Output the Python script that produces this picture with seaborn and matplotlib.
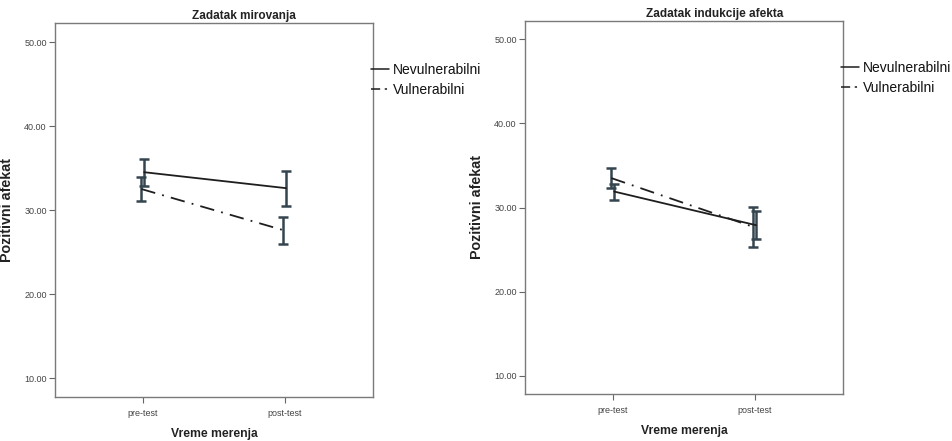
import numpy as np
import pandas as pd
import seaborn as sns
import matplotlib.pyplot as plt

# data (means and half-width of error bars)
phases = ["pre-test", "post-test"]
groups = ["Nevulnerabilni", "Vulnerabilni"]
panel_titles = ["Zadatak mirovanja", "Zadatak indukcije afekta"]

rest_nev_mean = [34.5, 32.6]
rest_nev_err = [1.6, 2.1]
rest_vul_mean = [32.5, 27.6]
rest_vul_err = [1.4, 1.6]

induct_nev_mean = [31.9, 27.9]
induct_nev_err = [0.95, 1.65]
induct_vul_mean = [33.5, 27.7]
induct_vul_err = [1.2, 2.4]

yticks = [10, 20, 30, 40, 50]

sns.set_theme(style="white")
plt.rcParams['font.family'] = ['Liberation Sans', 'DejaVu Sans']

fig = plt.figure(figsize=(9.52, 4.41), dpi=100)
ax1 = fig.add_axes([0.0578, 0.0998, 0.334, 0.848])
ax2 = fig.add_axes([0.5515, 0.1066, 0.334, 0.8458])

panels = [
    (ax1, rest_nev_mean, rest_nev_err, rest_vul_mean, rest_vul_err, (7.74, 52.26)),
    (ax2, induct_nev_mean, induct_nev_err, induct_vul_mean, induct_vul_err, (7.84, 52.17)),
]

bar_col = "#34454f"
line_col = "#1e1e1e"
styles = {"Nevulnerabilni": "", "Vulnerabilni": (8, 4, 1, 4)}
shift = {"Nevulnerabilni": 0.008, "Vulnerabilni": -0.012}

for i, (ax, nm, ne, vm, ve, ylim) in enumerate(panels):
    df = pd.DataFrame({
        "pos": list(range(len(phases))) * 2,
        "mean": nm + vm,
        "err": ne + ve,
        "grupa": [groups[0]] * len(phases) + [groups[1]] * len(phases),
    })
    df["x"] = df["pos"] + df["grupa"].map(shift)
    # error bars first, lines on top
    for g in groups:
        sub = df[df["grupa"] == g]
        ax.errorbar(sub["x"], sub["mean"], yerr=sub["err"], fmt="none",
                    ecolor=bar_col, elinewidth=1.8, capsize=3.5, capthick=1.8, zorder=2)
    sns.lineplot(data=df, x="x", y="mean", hue="grupa", style="grupa",
                 palette=[line_col, line_col], dashes=styles,
                 linewidth=1.3, ax=ax, zorder=3, legend=True, sort=False,
                 estimator=None, errorbar=None)

    ax.set_xlim(-0.62, 1.62)
    ax.set_ylim(*ylim)
    ax.set_xticks(range(len(phases)))
    ax.set_xticklabels(phases)
    ax.set_yticks(yticks)
    ax.set_yticklabels([f"{t:.2f}" for t in yticks])
    ax.tick_params(axis="both", which="both", direction="out", length=4, width=0.8,
                   colors="#666666", labelsize=6.5, labelcolor="#444444", pad=2, left=True, bottom=True)
    ax.tick_params(axis="x", pad=5)
    for sp in ax.spines.values():
        sp.set_color("#7a7a7a")
        sp.set_linewidth(1.0)
    ax.set_xlabel("Vreme merenja", fontsize=8.7, fontweight="bold", color="#222222")
    ax.xaxis.set_label_coords(0.5, -0.082)
    ax.set_ylabel("Pozitivni afekat", fontsize=10.3, fontweight="bold", color="#222222")
    ax.yaxis.set_label_coords(-0.129, 0.5)
    ax.set_title(panel_titles[i], fontsize=8.5, fontweight="bold", color="#222222", x=0.595, pad=3)

    leg = ax.legend(loc="upper left", bbox_to_anchor=(0.994, 0.894), frameon=False,
                    fontsize=10, handlelength=1.3, handletextpad=0.3,
                    borderpad=0, borderaxespad=0, labelspacing=0.45)
    for t in leg.get_texts():
        t.set_color("#111111")
    for h in leg.get_lines():
        h.set_linewidth(1.1)
    # shorter dash so the dot shows inside the small legend handle
    leg.get_lines()[1].set_linestyle((0, (6, 3, 1.5, 3)))

fig.savefig("out.png", dpi=100)
